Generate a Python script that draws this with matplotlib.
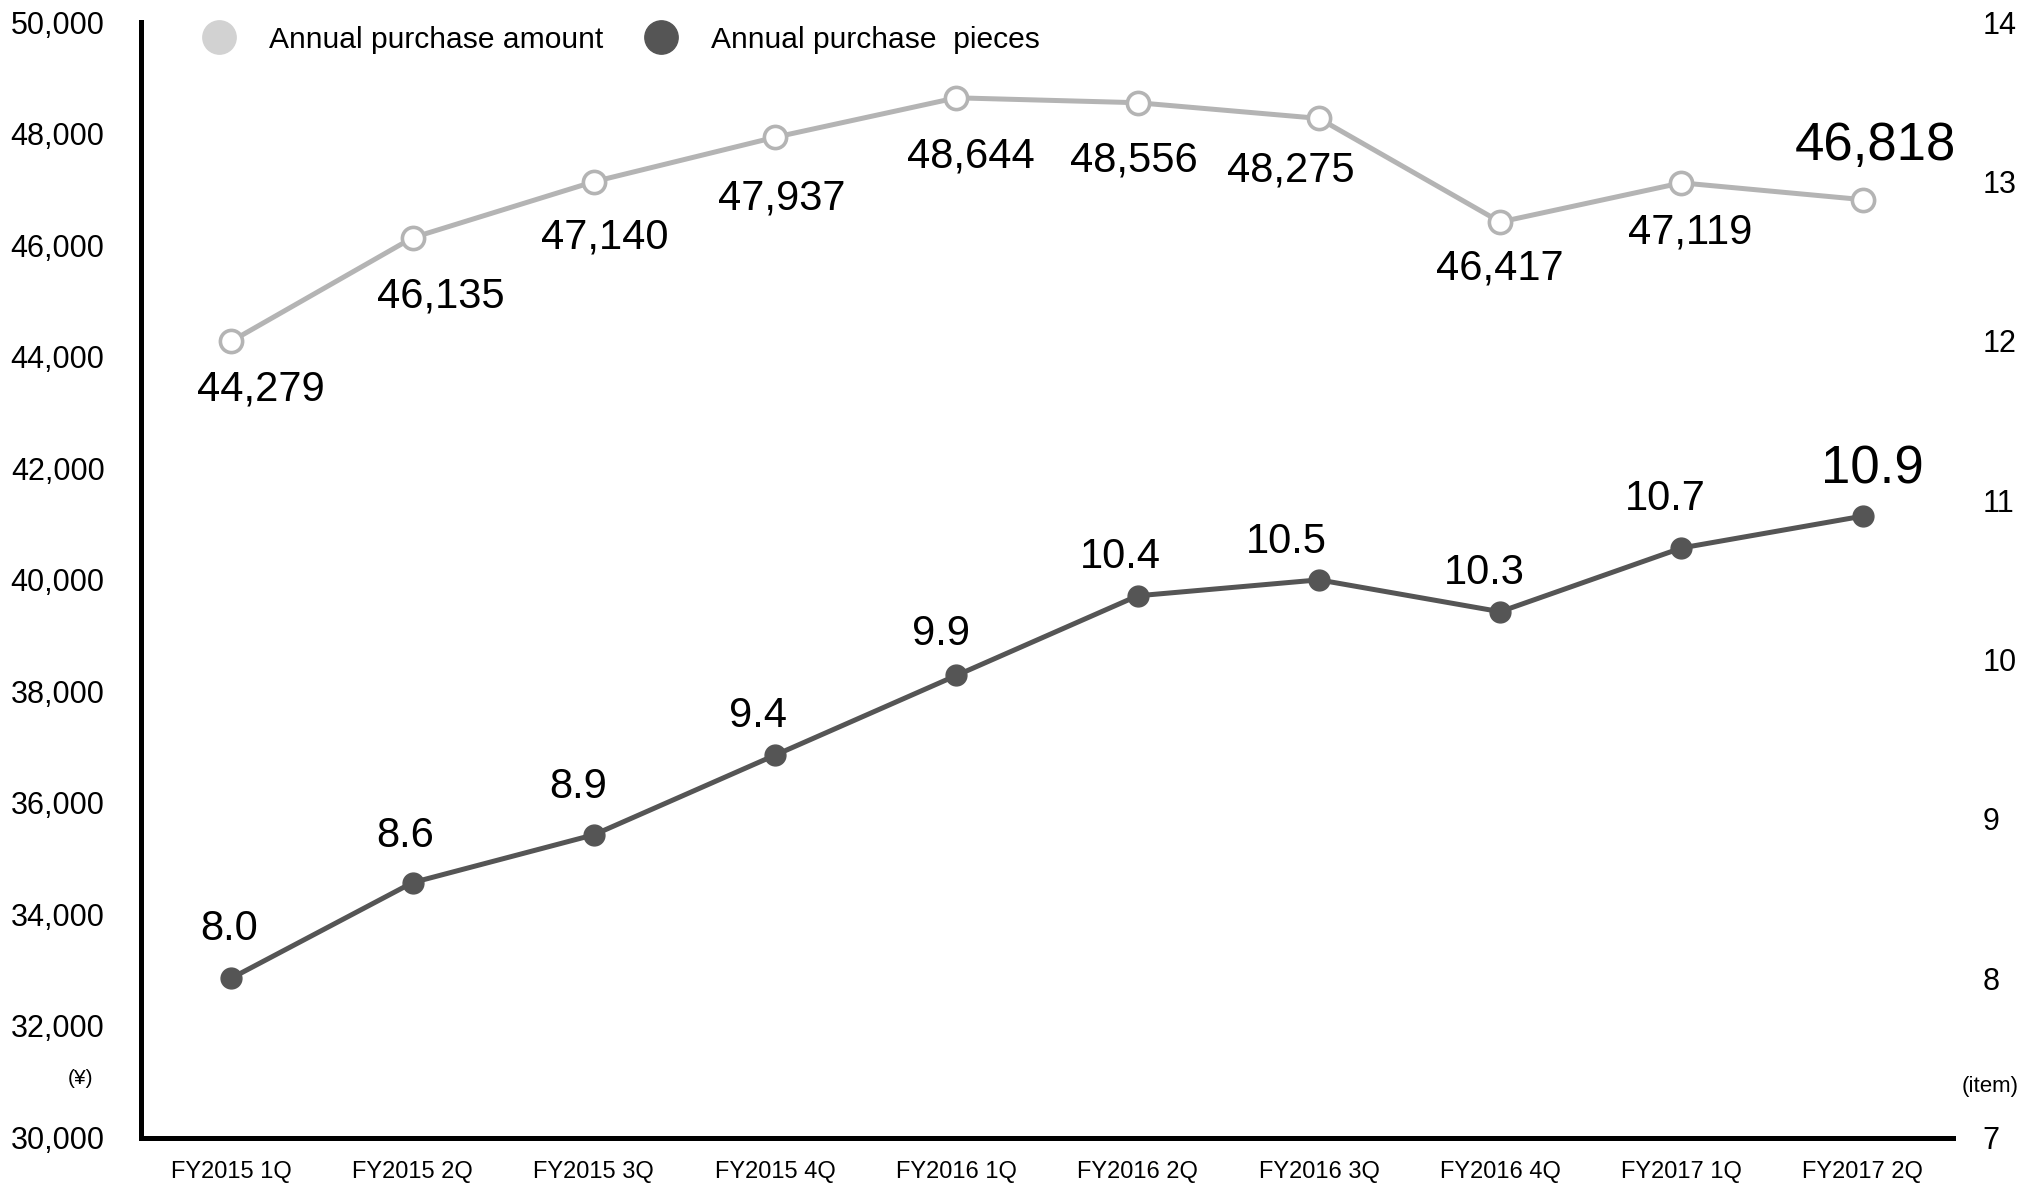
import matplotlib
matplotlib.use('Agg')
import matplotlib.pyplot as plt
from matplotlib.lines import Line2D

plt.rcParams['font.family'] = ['Liberation Sans', 'DejaVu Sans']

quarters = ['FY2015 1Q', 'FY2015 2Q', 'FY2015 3Q', 'FY2015 4Q', 'FY2016 1Q',
            'FY2016 2Q', 'FY2016 3Q', 'FY2016 4Q', 'FY2017 1Q', 'FY2017 2Q']
amount = [44279, 46135, 47140, 47937, 48644, 48556, 48275, 46417, 47119, 46818]
pieces = [8.0, 8.6, 8.9, 9.4, 9.9, 10.4, 10.5, 10.3, 10.7, 10.9]

# label nudges in points (dx, dy)
amount_off = [(21.6, -34.7), (20.6, -42.2), (7.5, -40.3), (4.7, -44), (10.3, -42.2),
              (-2.8, -41.3), (-20.6, -37.5), (0, -33.8), (6.6, -35.6), (9.4, 38.4)]
pieces_off = [(-1.9, 35.6), (-5.6, 33.8), (-11.3, 34.7), (-12.2, 28.1), (-11.3, 30),
              (-12.2, 28.1), (-23.4, 27.2), (-11.3, 28.1), (-11.3, 35.6), (6.6, 33.8)]

c_amt = '#b4b4b4'
c_pcs = '#555555'

fig = plt.figure(figsize=(20.42, 11.87), dpi=100)
ax = fig.add_axes([0.0689, 0.0417, 0.8877, 0.9396])
ax2 = ax.twinx()

x = list(range(len(quarters)))

ax.plot(x, amount, color=c_amt, lw=3.6, marker='o', ms=16, mfc='white',
        mec=c_amt, mew=2.6, zorder=3)
ax2.plot(x, pieces, color=c_pcs, lw=3.6, marker='o', ms=15, mfc=c_pcs,
         mec=c_pcs, zorder=3)

for i, v in enumerate(amount):
    big = i == len(amount) - 1
    ax.annotate(f'{v:,}', (i, v), xytext=amount_off[i], textcoords='offset points',
                ha='center', va='center', fontsize=38 if big else 30)
for i, v in enumerate(pieces):
    big = i == len(pieces) - 1
    ax2.annotate(f'{v:.1f}', (i, v), xytext=pieces_off[i], textcoords='offset points',
                 ha='center', va='center', fontsize=38 if big else 30)

ax.set_xlim(-0.5, 9.5)
ax.set_ylim(30000, 50000)
ax2.set_ylim(7, 14)
ax.set_yticks(range(30000, 50001, 2000))
ax.set_yticklabels([f'{t:,}' for t in range(30000, 50001, 2000)])
ax2.set_yticks(range(7, 15))
ax.set_xticks(x)
ax.set_xticklabels(quarters)

for a in (ax, ax2):
    for s in ('top', 'right', 'left', 'bottom'):
        a.spines[s].set_visible(False)
for s in ('left', 'bottom'):
    ax.spines[s].set_visible(True)
    ax.spines[s].set_linewidth(3.6)

ax.tick_params(axis='y', length=0, pad=26, labelsize=22)
ax.tick_params(axis='x', length=0, pad=17, labelsize=17)
ax2.tick_params(axis='y', length=0, pad=21, labelsize=22)

ax.text(-0.033, 0.053, '(¥)', transform=ax.transAxes, fontsize=15, ha='center', va='center')
ax2.text(1.02, 0.046, '(item)', transform=ax.transAxes, fontsize=16, ha='center', va='center')

handles = [Line2D([], [], ls='none', marker='o', ms=24, mfc='#d2d2d2', mec='#d2d2d2'),
           Line2D([], [], ls='none', marker='o', ms=24, mfc=c_pcs, mec=c_pcs)]
ax.legend(handles, ['Annual purchase amount', 'Annual purchase  pieces'], ncol=2,
          loc='upper left', bbox_to_anchor=(0.0185, 1.021), frameon=False, fontsize=21.6,
          handletextpad=1.05, columnspacing=1.35, handlelength=1.2)

fig.savefig('out.png', dpi=100)
